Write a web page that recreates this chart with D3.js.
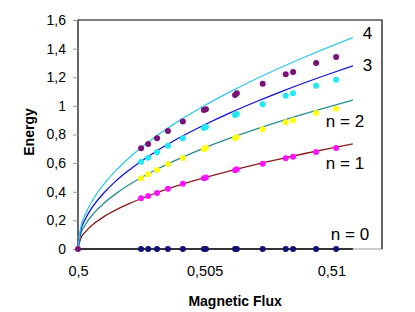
<!DOCTYPE html>
<html>
<head>
<meta charset="utf-8">
<script src="https://cdn.jsdelivr.net/npm/d3@7"></script>
<style>
  body { margin: 0; background: #fff; }
  text { font-family: "Liberation Sans", Arial, sans-serif; }
</style>
</head>
<body>
<svg id="chart"></svg>
<script>
const chartSize = { width: 415, height: 312 };
const margin = { left: 78, right: 33, top: 20, bottom: 63 };

const width = chartSize.width - margin.left - margin.right;
const height = chartSize.height - margin.top - margin.bottom;

// measured points (x = magnetic flux)
const pointX = [0.50249, 0.50277, 0.50312, 0.50355, 0.50414, 0.50497, 0.50505,
  0.5062, 0.50627, 0.50729, 0.5082, 0.50849, 0.5094, 0.51019];
const points0 = [0, 0, 0, 0, 0, 0, 0, 0, 0, 0, 0, 0, 0, 0];
const points1 = [0.354, 0.37, 0.391, 0.421, 0.456, 0.494, 0.5, 0.55, 0.557, 0.596, 0.634, 0.645, 0.678, 0.706];
const points2 = [0.494, 0.522, 0.552, 0.594, 0.636, 0.697, 0.708, 0.774, 0.781, 0.836, 0.885, 0.899, 0.95, 0.98];
const points3 = [0.61, 0.638, 0.676, 0.722, 0.774, 0.845, 0.852, 0.936, 0.943, 1.011, 1.071, 1.088, 1.141, 1.183];
const points4 = [0.704, 0.734, 0.774, 0.825, 0.89, 0.971, 0.976, 1.076, 1.088, 1.155, 1.221, 1.237, 1.3, 1.342];

// theory curves
const curveX = [0.5, 0.5001, 0.5003, 0.5006, 0.501, 0.5015, 0.502, 0.503, 0.504,
  0.505, 0.506, 0.507, 0.508, 0.509, 0.51, 0.51085];
const curve0 = [0, 0, 0, 0, 0, 0, 0, 0, 0, 0, 0, 0, 0, 0, 0, 0];
const curve1 = [0, 0.07, 0.122, 0.173, 0.223, 0.273, 0.315, 0.386, 0.446, 0.498, 0.546, 0.59, 0.63, 0.669, 0.705, 0.734];
const curve2 = [0, 0.1, 0.173, 0.245, 0.316, 0.387, 0.447, 0.547, 0.632, 0.707, 0.774, 0.836, 0.894, 0.948, 0.999, 1.041];
const curve3 = [0, 0.123, 0.213, 0.301, 0.388, 0.476, 0.549, 0.673, 0.777, 0.868, 0.951, 1.027, 1.098, 1.165, 1.228, 1.279];
const curve4 = [0, 0.142, 0.246, 0.347, 0.448, 0.549, 0.634, 0.777, 0.897, 1.003, 1.098, 1.186, 1.268, 1.345, 1.418, 1.477];

const xTicks = [0.5, 0.505, 0.51];
const yTicks = [0, 0.2, 0.4, 0.6, 0.8, 1, 1.2, 1.4, 1.6];

const curveLabels = ["n = 0", "n = 1", "n = 2", "3", "4"];

const comma = d => String(d).replace(".", ",");

const curves = [
  { ys: curve0, color: "#000000", w: 1.3 },
  { ys: curve1, color: "#8b1a1a", w: 1.3 },
  { ys: curve2, color: "#2a8f8f", w: 1.3 },
  { ys: curve3, color: "#1010d8", w: 1.3 },
  { ys: curve4, color: "#30c8ec", w: 1.3 }
];
const pointSets = [
  { ys: points0, color: "#10107a" },
  { ys: points1, color: "#ff10ff" },
  { ys: points2, color: "#ffff10" },
  { ys: points3, color: "#20e8f4" },
  { ys: points4, color: "#7a1078" }
];

const svg = d3.select("#chart")
  .attr("width", chartSize.width)
  .attr("height", chartSize.height);

const g = svg.append("g")
  .attr("transform", `translate(${margin.left},${margin.top})`);

const x = d3.scaleLinear().domain([0.5, 0.512]).range([0, width]);
const y = d3.scaleLinear().domain([0, 1.6]).range([height, 0]);

// frame
g.append("line").attr("x1", 0).attr("x2", width).attr("y1", height).attr("y2", height)
  .attr("stroke", "#999");
g.append("path")
  .attr("d", `M0,${height}V0H${width}V${height}`)
  .attr("fill", "none").attr("stroke", "#000").attr("stroke-width", 1.2);

const yAxis = g.append("g")
  .call(d3.axisLeft(y).tickValues(yTicks).tickFormat(comma).tickSize(5).tickSizeOuter(0).tickPadding(7));
yAxis.select(".domain").remove();
yAxis.selectAll("line").attr("stroke", "#999");
yAxis.selectAll("text").attr("font-size", 14).attr("fill", "#000");

const xAxis = g.append("g")
  .attr("transform", `translate(0,${height})`)
  .call(d3.axisBottom(x).tickValues(xTicks).tickFormat(comma).tickSize(0).tickPadding(17));
xAxis.select(".domain").remove();
xAxis.selectAll("text").attr("font-size", 14.5).attr("fill", "#000");

const line = d3.line()
  .x((d, i) => x(curveX[i]))
  .y(d => y(d))
  .curve(d3.curveMonotoneX);

g.selectAll(".curve")
  .data(curves)
  .enter()
  .append("path")
  .attr("class", "curve")
  .attr("fill", "none")
  .attr("stroke", c => c.color)
  .attr("stroke-width", c => c.w)
  .attr("d", c => line(c.ys));

pointSets.forEach(p => {
  g.append("g")
    .selectAll("circle")
    .data(p.ys)
    .enter()
    .append("circle")
    .attr("cx", (d, i) => x(pointX[i]))
    .attr("cy", d => y(d))
    .attr("r", 3)
    .attr("fill", p.color);
});

// point at the origin
g.append("circle").attr("cx", x(0.5)).attr("cy", y(0)).attr("r", 3).attr("fill", "#7a1078");

// curve labels, placed by the end of each curve
const labelPos = [
  { dx: -22, dy: -9 },
  { dx: -27, dy: 25 },
  { dx: -27, dy: 27 },
  { dx: 10, dy: 5 },
  { dx: 10, dy: 1 }
];
g.selectAll(".clabel")
  .data(curveLabels)
  .enter()
  .append("text")
  .attr("class", "clabel")
  .attr("x", (d, i) => x(curveX[curveX.length - 1]) + labelPos[i].dx)
  .attr("y", (d, i) => y(curves[i].ys[curveX.length - 1]) + labelPos[i].dy)
  .attr("font-size", 17)
  .text(d => d);

svg.append("text")
  .attr("x", margin.left + x(0.5062))
  .attr("y", 306)
  .attr("text-anchor", "middle")
  .attr("font-size", 14)
  .attr("font-weight", "bold")
  .text("Magnetic Flux");

svg.append("text")
  .attr("transform", "translate(34,132) rotate(-90)")
  .attr("text-anchor", "middle")
  .attr("font-size", 14)
  .attr("font-weight", "bold")
  .text("Energy");
</script>
</body>
</html>
